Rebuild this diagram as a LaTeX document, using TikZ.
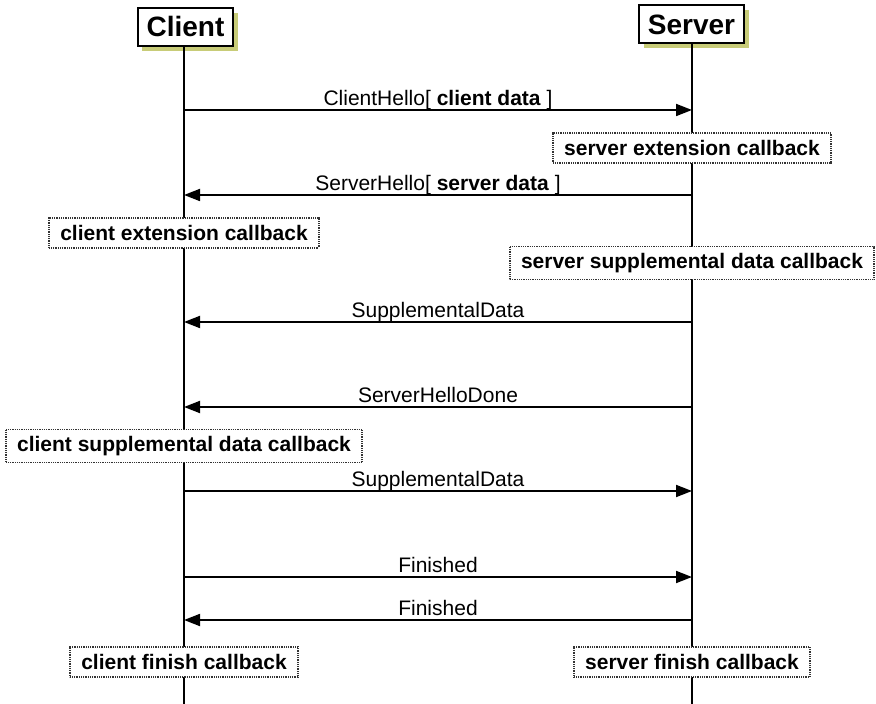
\documentclass[tikz,border=0pt]{standalone}
\usepackage{fontspec}
\setmainfont{Liberation Sans}
\usepackage{tikz}
\usetikzlibrary{arrows.meta}
\usetikzlibrary{shadows}
\usetikzlibrary{positioning}
\definecolor{shadowolive}{RGB}{200,204,120}

\begin{document}
\begin{tikzpicture}[x=0.5pt,y=-0.5pt,
	party/.style={draw=black,line width=1pt,fill=white,inner xsep=4.5pt,minimum height=19pt,
		font=\fontsize{14}{16}\selectfont\bfseries,
		drop shadow={shadow xshift=2.4pt,shadow yshift=-2.4pt,fill=shadowolive,opacity=1}},
	callback/.style={draw=black!80,dash pattern=on 0.5pt off 0.4pt,line width=0.8pt,fill=white,inner xsep=5.5pt,
		minimum height=15pt,font=\fontsize{10.5}{12}\selectfont\bfseries},
	msg/.style={line width=0.9pt,-{Triangle[length=8pt,width=6pt]}},
	lbl/.style={above,inner sep=0pt,text depth=2pt,font=\fontsize{10.5}{12}\selectfont}]
	\useasboundingbox (0,0) rectangle (876,704);
	% lifelines
	\node[party] (client) at (185.5,27) {Client};
	\node[party] (server) at (691.5,24.5) {Server};
	\coordinate (clientend) at (184,704);
	\coordinate (serverend) at (692,704);
	\draw[line width=0.75pt] (client.south -| clientend) -- (clientend);
	\draw[line width=0.75pt] (server.south -| serverend) -- (serverend);
	\foreach \n/\y in {1/110,2/195,3/322,4/407,5/491,6/577,7/620}{
		\coordinate (c\n) at (clientend |- 0,\y);
		\coordinate (s\n) at (serverend |- 0,\y);
	}
	% messages
	\draw[msg] (c1) -- node[lbl] {ClientHello[ \textbf{client data} ]} (s1);
	\draw[msg] (s2) -- node[lbl] {ServerHello[ \textbf{server data} ]} (c2);
	\draw[msg] (s3) -- node[lbl] {SupplementalData} (c3);
	\draw[msg] (s4) -- node[lbl] {ServerHelloDone} (c4);
	\draw[msg] (c5) -- node[lbl] {SupplementalData} (s5);
	\draw[msg] (c6) -- node[lbl] {Finished} (s6);
	\draw[msg] (s7) -- node[lbl] {Finished} (c7);
	% callbacks
	\node[callback] (srvext) at (serverend |- 0,148) {server extension callback};
	\node[callback] (cliext) at (clientend |- 0,233) {client extension callback};
	\node[callback] (srvsupp) at (serverend |- 0,263) {server supplemental data callback};
	\node[callback] (clisupp) at (clientend |- 0,446) {client supplemental data callback};
	\node[callback] (clifin) at (clientend |- 0,662) {client finish callback};
	\node[callback] (srvfin) at (serverend |- 0,662) {server finish callback};
\end{tikzpicture}
\end{document}
